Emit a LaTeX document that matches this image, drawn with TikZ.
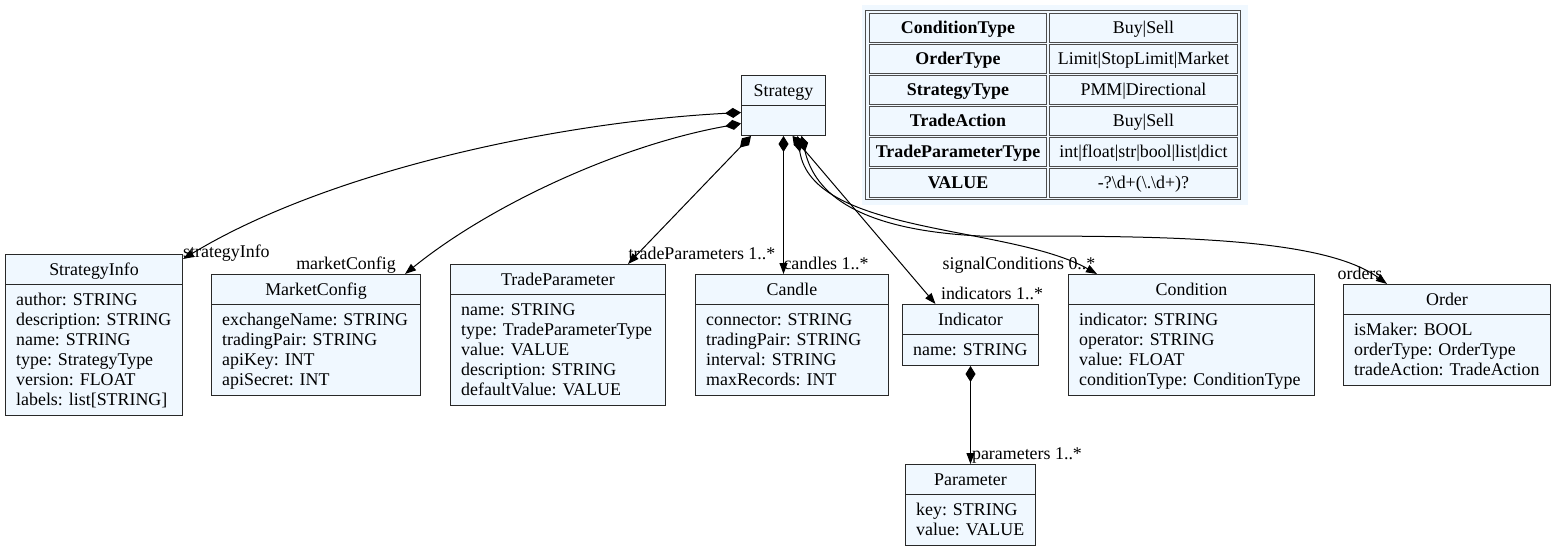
\documentclass[tikz,border=0pt]{standalone}
\usepackage{fontspec}
\setmainfont{Liberation Serif}
\usetikzlibrary{arrows.meta,calc}
\definecolor{aliceblue}{RGB}{240,248,255}
\definecolor{boxline}{RGB}{40,40,40}
\tikzset{
  classbox/.style={draw=boxline, fill=aliceblue, line width=1pt, inner sep=0pt},
  txt/.style={inner sep=0pt},
  rel/.style={line width=1pt, {Diamond[length=16pt,width=10pt]}-{Triangle[length=11pt,width=8pt]}},
  rolelbl/.style={inner sep=0pt, anchor=base},
  cell/.style={draw=black!70, fill=aliceblue, line width=1pt, inner sep=0pt, minimum height=29pt, anchor=north west},
}
% class box: name, left, top, width, height, title, attributes
\newcommand{\umlclass}[7]{%
  \node[classbox, anchor=north west, minimum width=#4pt, minimum height=#5pt] (#1) at (#2,#3) {};
  \node[txt, anchor=base] (#1-t) at ($(#1.north)+(0,21)$) {#6};
  \draw[boxline, line width=1pt] ($(#1.north west)+(0,30)$) -- ($(#1.north east)+(0,30)$);
  \foreach \a [count=\i] in {#7}
    \node[txt, anchor=base west] at ($(#1.north west)+(11,31+20*\i)$) {\a};
}
\begin{document}
\begin{tikzpicture}[x=1pt, y=-1pt, font=\fontsize{17.9pt}{20pt}\selectfont]
  \useasboundingbox (0,0) rectangle (1556,552);

  % classes
  \umlclass{strategy}{741}{75}{84}{60}{Strategy}{}
  \umlclass{info}{5}{254}{177}{161}{StrategyInfo}{author: STRING, description: STRING, name: STRING, type: StrategyType, version: FLOAT, labels: list[STRING]}
  \umlclass{mc}{211}{274}{209}{121}{MarketConfig}{exchangeName: STRING, tradingPair: STRING, apiKey: INT, apiSecret: INT}
  \umlclass{tp}{450}{264}{215}{141}{TradeParameter}{name: STRING, type: TradeParameterType, value: VALUE, description: STRING, defaultValue: VALUE}
  \umlclass{candle}{695}{274}{193}{121}{Candle}{connector: STRING, tradingPair: STRING, interval: STRING, maxRecords: INT}
  \umlclass{ind}{902}{304}{136}{61}{Indicator}{name: STRING}
  \umlclass{cond}{1068}{274}{246}{121}{Condition}{indicator: STRING, operator: STRING, value: FLOAT, conditionType: ConditionType}
  \umlclass{order}{1343}{284}{207}{101}{Order}{isMaker: BOOL, orderType: OrderType, tradeAction: TradeAction}
  \umlclass{param}{905}{464}{130}{81}{Parameter}{key: STRING, value: VALUE}

  % enum table
  \fill[aliceblue] (862,5) rectangle (1248,205);
  \draw[black!70, line width=1pt] (865,10) rectangle (1240,199);
  \foreach \k/\v [count=\r from 0] in {ConditionType/Buy|Sell, OrderType/Limit|StopLimit|Market,
      StrategyType/PMM|Directional, TradeAction/Buy|Sell, TradeParameterType/int|float|str|bool|list|dict,
      VALUE/-?\textbackslash d+(\textbackslash .\textbackslash d+)?} {
    \node[cell, minimum width=177pt] (k\r) at (869,13+31*\r) {};
    \node[cell, minimum width=188pt] (v\r) at (1049,13+31*\r) {};
    \node[txt, anchor=base] (kt\r) at ($(k\r.center)+(0,5)$) {\bfseries \k};
    \node[txt, anchor=base] (vt\r) at ($(v\r.center)+(0,5)$) {\v};
  }

  % compositions
  \draw[rel] ($(strategy.west)+(0,7)$) .. controls (560,122) and (330,170) .. ($(info.north east)+(0,5)$);
  \draw[rel] ($(strategy.west)+(0,18)$) .. controls (620,145) and (490,205) .. ($(mc.north east)+(-16,0)$);
  \draw[rel] ($(strategy.south west)+(10,0)$) -- ($(tp.north east)+(-38,0)$);
  \draw[rel] (strategy.south) -- (strategy.south |- candle.north);
  \draw[rel] ($(strategy.south)+(9,0)$) -- ($(ind.north)+(-35,0)$);
  \draw[rel] ($(strategy.south)+(14,0)$) .. controls (812,235) and (1010,225) .. ($(cond.north west)+(29,0)$);
  \draw[rel] ($(strategy.south)+(18,0)$) .. controls (815,195) and (860,230) .. (980,236)
    .. controls (1150,236) and (1320,235) .. ($(order.north west)+(44,0)$);
  \draw[rel] (ind.south) -- (param.north);

  % role labels
  \node[rolelbl, anchor=base west] (l-info) at (183,257) {strategyInfo};
  \node[rolelbl] (l-mc) at (346,269) {marketConfig};
  \node[rolelbl] (l-tp) at (702,259) {tradeParameters 1..*};
  \node[rolelbl] (l-candle) at (826,269) {candles 1..*};
  \node[rolelbl] (l-ind) at (992,299) {indicators 1..*};
  \node[rolelbl] (l-cond) at (1019,269) {signalConditions 0..*};
  \node[rolelbl] (l-order) at (1360,279) {orders};
  \node[rolelbl] (l-param) at (1027,459) {parameters 1..*};
\end{tikzpicture}
\end{document}
